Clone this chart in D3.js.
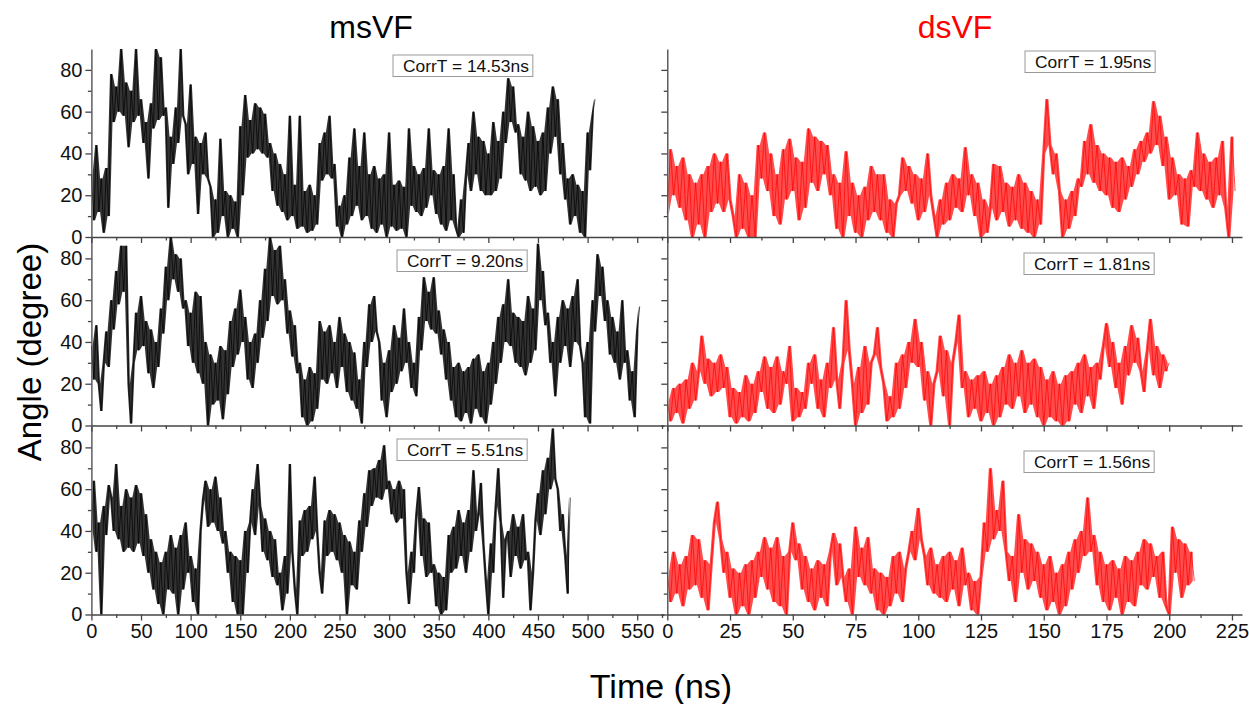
<!DOCTYPE html>
<html>
<head>
<meta charset="utf-8">
<script src="https://cdn.jsdelivr.net/npm/d3@7"></script>
<style>
  body { margin: 0; background: #fff; }
  text { font-family: Arial, "Liberation Sans", sans-serif; }
</style>
</head>
<body>
<script>
const msStep = 2.5;
const dsStep = 1.25;

const msAngle1 = [30,8,44,12, 28,2,33,10, 78,55,72,60, 90,58,74,43, 70,55,90,58,
  66,45,55,28, 64,52,90,56, 86,58,62,14, 48,35,62,45, 90,58,54,30,
  73,35,48,11, 45,30,50,28, 24,0,18,2, 47,10,22,0, 20,4,17,0,
  53,20,68,38, 56,40,64,42, 62,40,59,38, 45,22,40,15, 35,12,30,8,
  58,10,25,4, 58,5,22,2, 25,3,20,6, 45,27,50,30, 58,28,35,5,
  15,0,20,6, 38,10,52,15, 34,8,50,10, 30,4,34,2, 28,6,30,0,
  50,5,25,3, 27,4,24,0, 52,15,34,12, 30,10,33,14, 52,20,32,11,
  30,6,34,3, 52,8,30,4, 0,18,2,30, 45,22,60,30, 48,22,46,20,
  40,20,55,22, 46,28,60,45, 76,55,72,50, 54,30,48,27, 60,22,53,24,
  46,20,50,22, 62,40,72,48, 66,30,45,18, 28,6,30,10, 25,2,22,0,
  50,32,58,66];

const msAngle2 = [38,22,48,20, 7,30,45,28, 60,46,74,58, 86,64,86,20, 1,30,54,36,
  62,38,50,25, 46,18,40,28, 56,44,76,60, 90,70,82,64, 80,56,60,38,
  54,30,64,25, 62,20,40,0, 34,10,30,12, 38,3,36,15, 50,28,56,34,
  65,40,52,22, 40,18,44,30, 60,42,75,50, 90,62,84,58, 86,60,70,44,
  55,33,48,25, 30,4,22,0, 28,2,25,8, 50,22,45,20, 48,25,40,18,
  52,28,44,16, 40,12,35,8, 22,1,40,28, 58,40,62,45, 40,12,30,4,
  36,16,48,20, 42,26,56,30, 40,18,30,14, 52,36,71,50, 64,46,71,44,
  55,34,46,22, 40,12,28,4, 30,2,26,6, 28,1,32,8, 34,4,26,1,
  30,10,40,20, 52,30,58,40, 70,38,54,30, 52,28,50,24, 62,30,56,36,
  87,60,74,48, 54,30,40,14, 52,30,60,38, 56,28,62,40, 70,38,30,4,
  40,1,60,45, 82,62,76,50, 60,34,52,30, 45,22,60,30, 36,12,26,4,
  45,57];

const msAngle3 = [40,64,30,44, 0,52,38,62, 56,40,72,36, 52,30,60,32, 56,30,62,34,
  58,28,48,20, 36,12,30,5, 25,0,30,12, 38,10,32,0, 38,12,44,20,
  28,6,22,0, 40,55,64,42, 60,44,66,40, 56,34,40,20, 30,6,28,0,
  26,0,40,20, 44,60,38,72, 52,30,46,26, 40,18,36,14, 20,2,28,10,
  72,30,12,0, 45,28,50,30, 52,36,66,40, 20,10,45,28, 50,30,48,26,
  44,20,38,0, 35,14,30,12, 45,30,58,42, 69,52,70,56, 74,55,81,60,
  64,48,60,44, 64,46,60,20, 5,30,20,48, 61,28,46,18, 44,20,24,4,
  20,0,18,2, 38,20,42,22, 50,28,44,20, 50,30,69,40, 48,63,34,16,
  0,34,20,52, 70,44,8,36, 40,18,48,28, 42,22,48,26, 30,2,20,45,
  58,38,69,48, 75,60,89,65, 60,40,48,28, 10,56];

const dsAngle1 = [11,42,20,34,14,38,8,30, 0,26,6,30,0,34,12,40, 16,36,12,40,18,10,0,30,
  4,26,0,20,0,44,28,50, 22,40,10,30,6,42,18,47, 22,38,8,36,14,52,26,48,
  22,46,30,44,20,30,4,26, 0,41,10,26,2,20,0,24, 8,34,12,30,8,30,2,18,
  0,16,20,38,22,34,16,30, 8,28,12,40,20,10,0,18, 6,26,8,30,14,28,12,43,
  20,30,10,26,0,18,2,14, 35,8,34,12,26,5,24,8, 30,4,26,2,22,0,18,6,
  40,66,44,30,40,22,0,18, 4,22,10,28,24,46,30,54, 26,44,22,40,20,38,14,36,
  12,38,18,34,24,42,30,46, 36,50,40,65,44,58,34,48, 18,38,20,30,6,28,5,32,
  24,50,22,40,18,36,14,38, 20,46,14,0,48,22];

const dsAngle2 = [12,2,18,6,20,1,22,8, 30,12,26,43,20,32,14,30, 16,34,18,28,4,18,1,16,
  4,24,2,20,6,26,16,33, 8,28,6,33,10,26,20,38, 2,18,4,16,8,30,20,34,
  8,22,4,30,18,47,22,8, 30,60,36,20,0,28,6,38, 10,30,34,47,28,20,2,14,
  4,30,8,34,18,40,30,51, 28,40,12,26,0,20,26,43, 14,36,0,30,40,53,18,26,
  4,22,8,24,2,26,6,20, 0,24,4,28,10,34,8,30, 14,36,6,30,10,32,4,28,
  0,22,4,26,2,20,0,24, 2,26,10,30,6,34,14,28, 8,30,22,38,49,28,40,18,
  30,10,38,24,48,30,42,26, 16,36,51,24,38,18,34,26,30];

const dsAngle3 = [20,6,30,10,24,4,28,12, 38,14,36,8,26,2,24,44, 54,36,20,30,8,22,0,20,
  4,24,0,26,8,30,18,37, 12,32,6,37,4,28,0,30, 44,26,34,12,28,6,22,2,
  26,8,24,4,30,39,14,34, 18,6,22,0,42,18,32,14, 37,10,22,2,20,0,18,4,
  28,10,30,6,22,30,40,26, 51,36,28,14,32,10,24,8, 28,6,30,12,26,4,32,14,
  20,2,16,0,18,44,30,70, 36,50,40,64,30,16,28,6, 48,20,36,12,34,16,30,8,
  24,2,28,6,20,0,24,4, 30,12,36,20,40,28,56,30, 38,14,30,6,24,2,26,8,
  22,0,28,6,26,4,30,14, 36,12,34,18,28,8,30,4, 0,42,20,36,8,34,14,30,16];

const msCorrT = ["14.53", "9.20", "5.51"];
const dsCorrT = ["1.95", "1.81", "1.56"];

const yTicks = [0, 20, 40, 60, 80];
const yMinor = [10, 30, 50, 70];
const msTicks = [0, 50, 100, 150, 200, 250, 300, 350, 400, 450, 500, 550];
const msMinor = [25, 75, 125, 175, 225, 275, 325, 375, 425, 475, 525, 575];
const dsTicks = [0, 25, 50, 75, 100, 125, 150, 175, 200, 225];
const dsMinor = [12.5, 37.5, 62.5, 87.5, 112.5, 137.5, 162.5, 187.5, 212.5];

// ---- layout ----
const W = 1249, H = 704;
const rowTop = [49, 237.5, 426.5];
const rowH = 188;

const svg = d3.select("body").append("svg")
  .attr("width", W)
  .attr("height", H);

const xMs = d3.scaleLinear().domain([0, 577]).range([91.4, 664]);
const xDs = d3.scaleLinear().domain([0, 229]).range([667.3, 1242]);

const cols = [
  { x: xMs, step: msStep, series: [msAngle1, msAngle2, msAngle3], color: "#000",
    fillOp: 0.8, width: 0.7, ticks: msTicks, minor: msMinor, corr: msCorrT, labelsY: true,
    boxX: [393, 397, 397], boxY: [6, 12.5, 12.5] },
  { x: xDs, step: dsStep, series: [dsAngle1, dsAngle2, dsAngle3], color: "#ff0000",
    fillOp: 0.7, width: 0.7, ticks: dsTicks, minor: dsMinor, corr: dsCorrT, labelsY: false,
    boxX: [1025, 1024, 1024], boxY: [2, 15.5, 24.5] }
];

function styleAxis(g) {
  g.select(".domain").attr("stroke", "#444").attr("stroke-width", 1.3);
  g.selectAll(".tick line").attr("stroke", "#444").attr("stroke-width", 1.3);
  g.selectAll(".tick text").attr("font-size", 20).attr("fill", "#111")
    .attr("font-family", "Arial, 'Liberation Sans', sans-serif");
}

cols.forEach(col => {
  col.series.forEach((vals, r) => {
    const top = rowTop[r];
    const y = d3.scaleLinear().domain([0, 90]).range([top + rowH, top]);

    // the trace is very dense: fill the span it sweeps between samples, then the line
    const spans = vals.slice(1).map((v, i) => [Math.min(v, vals[i]), Math.max(v, vals[i])]);
    const band = d3.area()
      .x((d, i) => col.x((i + 0.5) * col.step))
      .y0(d => y(d[0]))
      .y1(d => y(d[1]));
    svg.append("path")
      .datum(spans)
      .attr("fill", col.color)
      .attr("fill-opacity", col.fillOp)
      .attr("d", band);

    const line = d3.line()
      .x((d, i) => col.x(i * col.step))
      .y(d => y(d));
    svg.append("path")
      .datum(vals)
      .attr("fill", "none")
      .attr("stroke", col.color)
      .attr("stroke-width", col.width)
      .attr("stroke-linejoin", "round")
      .attr("d", line);

    // y axis
    const yAx = d3.axisLeft(y).tickValues(yTicks).tickSize(6).tickSizeOuter(0);
    if (!col.labelsY) yAx.tickFormat("");
    svg.append("g")
      .attr("transform", `translate(${col.x.range()[0]},0)`)
      .call(yAx).call(styleAxis);
    svg.append("g")
      .attr("transform", `translate(${col.x.range()[0]},0)`)
      .call(d3.axisLeft(y).tickValues(yMinor).tickSize(3.5).tickFormat(""))
      .call(styleAxis)
      .select(".domain").remove();

    // x axis
    const xAx = d3.axisBottom(col.x).tickValues(col.ticks).tickSize(6).tickSizeOuter(0);
    if (r < 2) xAx.tickFormat("");
    svg.append("g")
      .attr("transform", `translate(0,${top + rowH})`)
      .call(xAx).call(styleAxis);
    svg.append("g")
      .attr("transform", `translate(0,${top + rowH})`)
      .call(d3.axisBottom(col.x).tickValues(col.minor).tickSize(3.5).tickFormat(""))
      .call(styleAxis)
      .select(".domain").remove();

    // CorrT box
    const bx = col.boxX[r], by = top + col.boxY[r];
    const box = svg.append("g");
    const rect = box.append("rect")
      .attr("x", bx).attr("y", by).attr("height", 21.5)
      .attr("fill", "#fff").attr("stroke", "#999").attr("stroke-width", 1);
    const t = box.append("text")
      .attr("x", bx + 10).attr("y", by + 16.5)
      .attr("font-size", 17.4).attr("fill", "#111")
      .text(`CorrT = ${col.corr[r]}ns`);
    rect.attr("width", t.node().getComputedTextLength() + 14);
  });
});

// titles
svg.append("text").attr("x", 371).attr("y", 38).attr("text-anchor", "middle")
  .attr("font-size", 32).attr("fill", "#000").text("msVF");
svg.append("text").attr("x", 955).attr("y", 38).attr("text-anchor", "middle")
  .attr("font-size", 32).attr("fill", "#ff0000").text("dsVF");

svg.append("text")
  .attr("transform", "translate(41,352) rotate(-90)")
  .attr("text-anchor", "middle").attr("font-size", 33).attr("fill", "#000")
  .text("Angle (degree)");
svg.append("text").attr("x", 661).attr("y", 698).attr("text-anchor", "middle")
  .attr("font-size", 34).attr("fill", "#000").text("Time (ns)");
</script>
</body>
</html>
